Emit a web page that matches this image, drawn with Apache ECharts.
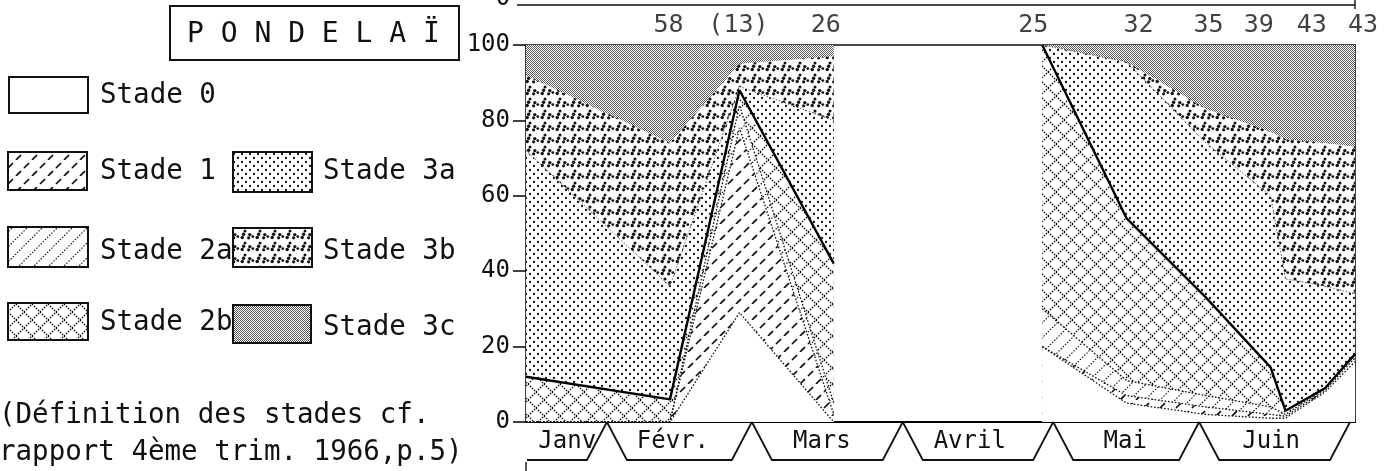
<!DOCTYPE html>
<html>
<head>
<meta charset="utf-8">
<script src="https://cdn.jsdelivr.net/npm/echarts@6/dist/echarts.min.js"></script>
<style>
html,body{margin:0;padding:0;background:#fff;}
#c{width:1393px;height:471px;}
</style>
</head>
<body>
<div id="c"></div>
<script>
// ---------------- DATA ----------------
// Sampling dates, in days counted from 15 January (83 = April, no sample -> gap)
const sampleDays = [0, 29, 43, 62, 83, 104, 121, 137, 150, 153, 161, 167];
// Percentage of each maturity stage at each sampling date
const stade0  = [0, 0, 29, 0, null, 20, 5, 2, 1, 1, 8, 16];
const stade1  = [0, 0, 49, 2, null, 0, 2, 2, 1, 0.5, 0.5, 1];
const stade2a = [0, 0, 6, 3, null, 10, 4, 3, 2, 0.5, 0.5, 1];
const stade2b = [12, 6, 4, 37, null, 70, 43, 26, 10.5, 1, 0, 0];
const stade3a = [60, 30, 1, 38, null, 0, 41.5, 41, 45.5, 35, 27, 16];
const stade3b = [20, 38, 6, 17, null, 0, 0, 9, 17, 37, 38, 39];
const stade3c = [8, 26, 5, 3, null, 0, 4.5, 17, 23, 25, 26, 27];
// Sample sizes written above the chart
const countDays   = [28.7, 42.8, 60.4, 102.2, 123.4, 137.5, 147.6, 158.3, 168.6];
const countLabels = ['58', '(13)', '26', '25', '32', '35', '39', '43', '43'];
// Month strip
const monthNames     = ['Janv', 'Févr.', 'Mars', 'Avril', 'Mai', 'Juin'];
const monthLabelDays = [8.3, 29.6, 59.6, 89.4, 120.7, 150.1];
const monthBoundDays = [16.3, 45.5, 75.9, 106.2, 135.6, 166];
const yTickValues    = [0, 20, 40, 60, 80, 100];
const stageNames = ['Stade 0', 'Stade 1', 'Stade 2a', 'Stade 2b', 'Stade 3a', 'Stade 3b', 'Stade 3c'];

// ---------------- PATTERNS ----------------
const FONT = '"DejaVu Sans Mono", monospace';
const INK = '#111';
function tile(w, h, fn) {
  const c = document.createElement('canvas');
  c.width = w; c.height = h;
  const g = c.getContext('2d');
  g.fillStyle = '#fff'; g.fillRect(0, 0, w, h);
  g.fillStyle = INK; g.strokeStyle = INK;
  fn(g, w, h);
  return { image: c, repeat: 'repeat' };
}
function diagUp(g, s) { // "/" lines
  for (const o of [-s, 0, s]) { g.beginPath(); g.moveTo(o, s); g.lineTo(o + s, 0); g.stroke(); }
}
function diagDown(g, s) { // "\" lines
  for (const o of [-s, 0, s]) { g.beginPath(); g.moveTo(o, 0); g.lineTo(o + s, s); g.stroke(); }
}
function dot(g, x, y, r) { g.beginPath(); g.arc(x, y, r, 0, Math.PI * 2); g.fill(); }
const pat1 = tile(16, 16, (g) => { g.lineWidth = 1.7; g.setLineDash([7, 4.31]); diagUp(g, 16); });
const pat2a = tile(15, 15, (g) => { g.lineWidth = 1.2; g.setLineDash([1.4, 1.63]); diagUp(g, 15); });
const pat2b = tile(16, 16, (g) => { g.lineWidth = 1.3; g.setLineDash([1.5, 1.33]); diagUp(g, 16); diagDown(g, 16); });
const pat3a = tile(8, 8, (g) => { dot(g, 2, 2, 1.15); dot(g, 6, 6, 1.15); });
const pat3b = tile(15, 12, (g) => {
  for (const [x, y, r] of [[2.2, 9.5, 1.7], [3.6, 6.2, 1.7], [5, 3, 1.5], [8.6, 9.8, 1.6], [9.8, 6.6, 1.7], [12.8, 8.6, 1.4]]) dot(g, x, y, r);
});
const pat3c = tile(2, 2, (g) => { g.fillStyle = '#5a5a5a'; g.fillRect(0, 0, 1, 1); g.fillRect(1, 1, 1, 1); });
const fills = ['#ffffff', pat1, pat2a, pat2b, pat3a, pat3b, pat3c];

const edgeStyles = [
  { color: INK, width: 1.3, type: [1.6, 1.8] },
  { color: INK, width: 1.3, type: [1.6, 1.8] },
  { color: INK, width: 1.3, type: [1.6, 1.8] },
  { color: '#000', width: 2.4, type: 'solid' },
  { color: '#444', width: 1, type: [1.2, 2] },
  { width: 0, opacity: 0 },
  { width: 0, opacity: 0 }
];

// ---------------- CHART ----------------
const stages = [stade0, stade1, stade2a, stade2b, stade3a, stade3b, stade3c];
// cumulative top of each stage (stage 0 at the bottom)
const cumul = stages.map((_, i) => sampleDays.map((d, k) => {
  if (stages[i][k] === null) return '-';
  let s = 0;
  for (let j = 0; j <= i; j++) s += stages[j][k];
  return s;
}));
// Painter's order: highest band first, each area filled down to 0
const areaSeries = [];
for (let i = stages.length - 1; i >= 0; i--) {
  areaSeries.push({
    name: stageNames[i], type: 'line', symbol: 'none', silent: true,
    connectNulls: false, xAxisIndex: 0, yAxisIndex: 0, z: 2,
    data: sampleDays.map((d, k) => [d, cumul[i][k]]),
    lineStyle: { width: 0, opacity: 0 },
    areaStyle: { color: fills[i], opacity: 1, origin: 'start' }
  });
}
const edgeSeries = stages.map((_, i) => ({
  type: 'line', symbol: 'none', silent: true,
  connectNulls: false, xAxisIndex: 0, yAxisIndex: 0, z: 3,
  data: sampleDays.map((d, k) => [d, cumul[i][k]]),
  lineStyle: edgeStyles[i]
}));
const countSeries = {
  type: 'scatter', xAxisIndex: 0, yAxisIndex: 0, z: 4, clip: false, silent: true,
  symbolSize: 1, itemStyle: { color: 'rgba(0,0,0,0)' },
  data: countDays.map((d, k) => ({ value: [d, 100], label: { formatter: countLabels[k] } })),
  label: { show: true, position: 'top', distance: 7, color: INK, fontFamily: FONT, fontSize: 25 }
};

const chart = echarts.init(document.getElementById('c'), null, { renderer: 'canvas' });
chart.setOption({
  animation: false,
  backgroundColor: '#fff',
  grid: { left: 526, right: 38, top: 45, bottom: 49, containLabel: false, outerBoundsMode: 'none' },
  xAxis: [
    { type: 'value', min: 0, max: 167, position: 'bottom',
      axisLine: { show: true, onZero: false, lineStyle: { color: '#000', width: 2.2 } },
      axisTick: { show: false }, axisLabel: { show: false }, splitLine: { show: false } },
    { type: 'value', min: 0, max: 167, position: 'top',
      axisLine: { show: true, onZero: false, lineStyle: { color: INK, width: 1.6 } },
      axisTick: { show: false }, axisLabel: { show: false }, splitLine: { show: false } }
  ],
  yAxis: [
    { type: 'value', min: 0, max: 100, interval: 20, position: 'left',
      axisLine: { show: true, onZero: false, lineStyle: { color: INK, width: 1.6 } },
      axisTick: { show: true, inside: false, length: 13, lineStyle: { color: INK, width: 1.6 } },
      axisLabel: { show: true, margin: 16, color: INK, fontFamily: FONT, fontSize: 24,
        formatter: (v) => (yTickValues.indexOf(v) >= 0 ? String(v) : '') },
      splitLine: { show: false } },
    { type: 'value', min: 0, max: 100, position: 'right',
      axisLine: { show: true, onZero: false, lineStyle: { color: INK, width: 1.6 } },
      axisTick: { show: false }, axisLabel: { show: false }, splitLine: { show: false } }
  ],
  series: [...areaSeries, ...edgeSeries, countSeries]
});

// ---------------- DECORATION (legend, title, month strip) ----------------
const px = (d, v) => chart.convertToPixel({ gridIndex: 0 }, [d, v]);
const y0 = px(0, 0)[1];
const left = px(0, 0)[0];
const g = [];
function txt(x, y, text, size, align) {
  g.push({ type: 'text', x, y, silent: true, z: 10,
    style: { text, fontFamily: FONT, fontSize: size, fill: INK, align: align || 'left', verticalAlign: 'middle' } });
}
function line(x1, y1, x2, y2, w) {
  g.push({ type: 'line', silent: true, z: 10, shape: { x1, y1, x2, y2 }, style: { stroke: INK, lineWidth: w || 1.6 } });
}
function poly(points, w) {
  g.push({ type: 'polyline', silent: true, z: 10, shape: { points }, style: { stroke: INK, lineWidth: w || 1.8, fill: null } });
}
// Month trapezoids
const footY = y0 + 38, dx = 20;
const bx = monthBoundDays.map((d) => px(d, 0)[0]);
poly([[left + 1, footY], [bx[0] - dx, footY], [bx[0], y0]]);
for (let i = 1; i < bx.length; i++) {
  poly([[bx[i - 1], y0], [bx[i - 1] + dx, footY], [bx[i] - dx, footY], [bx[i], y0]]);
}
monthNames.forEach((m, i) => txt(px(monthLabelDays[i], 0)[0], y0 + 20, m, 24, 'center'));
line(left, footY + 2, left, 471, 1.4);
// Remnant of the chart above
line(517, 5, 1355, 5, 1.6);
line(1355, 0, 1355, 9, 1.4);
g.push({ type: 'text', x: 503, y: 11, silent: true, z: 10,
  style: { text: '0', fontFamily: FONT, fontSize: 24, fill: INK, align: 'center', verticalAlign: 'bottom' } });
// Title box
g.push({ type: 'rect', silent: true, z: 10, shape: { x: 170, y: 6, width: 289, height: 54 },
  style: { stroke: INK, lineWidth: 2, fill: null } });
txt(187, 35, 'P O N D E L A Ï', 28);
// Legend
const legendBoxes = [
  [9, 77, 79, 36, 100, 96],
  [8, 152, 79, 38, 100, 172],
  [8, 227, 80, 40, 100, 252],
  [8, 303, 80, 37, 100, 323],
  [233, 152, 79, 40, 323, 172],
  [233, 228, 79, 39, 323, 252],
  [233, 305, 78, 38, 323, 328]
];
legendBoxes.forEach((b, i) => {
  g.push({ type: 'rect', silent: true, z: 10, shape: { x: b[0], y: b[1], width: b[2], height: b[3] },
    style: { stroke: INK, lineWidth: 2, fill: fills[i] } });
  txt(b[4], b[5], stageNames[i], 27.5);
});
// Footnote
txt(-1, 416, '(Définition des stades cf.', 27.5);
txt(-1, 453, 'rapport 4ème trim. 1966,p.5)', 27.5);

chart.setOption({ graphic: g });
</script>
</body>
</html>
